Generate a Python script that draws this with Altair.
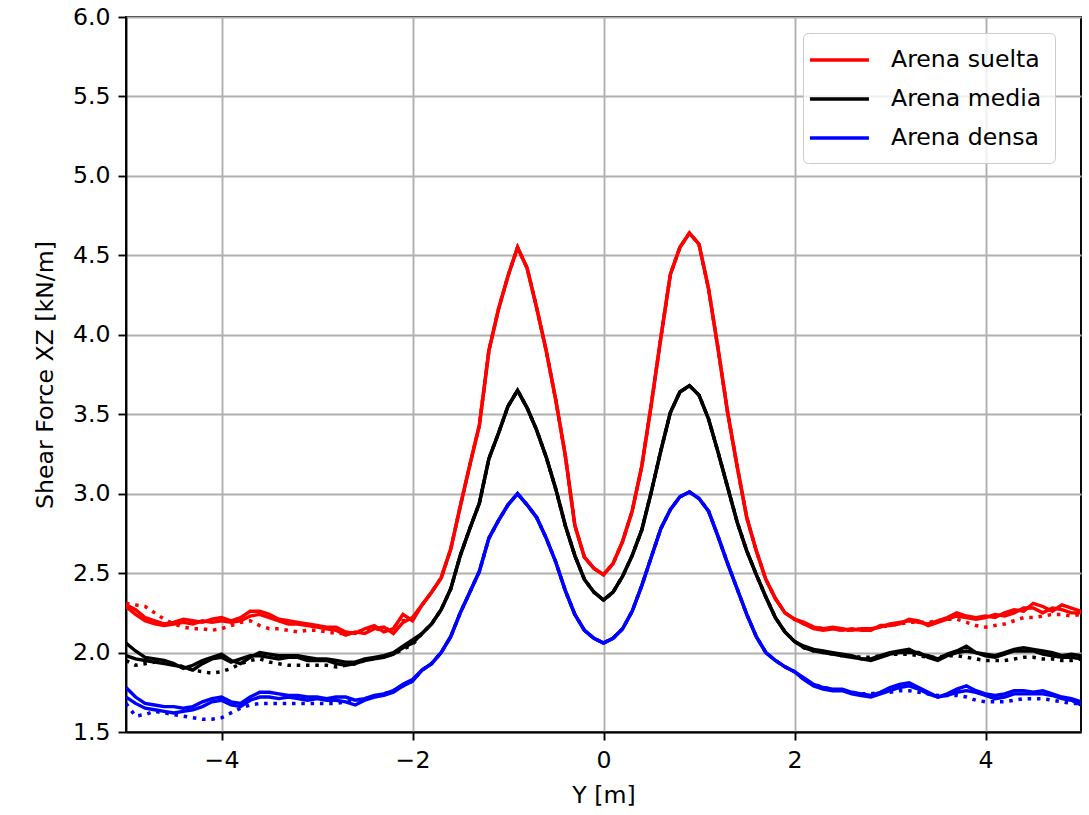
import altair as alt
import pandas as pd

# x positions (Y [m]) of the sampled points
Y_LEFT = [-5.0, -4.9, -4.8, -4.7, -4.6, -4.5, -4.4, -4.3, -4.2, -4.1, -4.0,
          -3.9, -3.8, -3.7, -3.6, -3.5, -3.4, -3.3, -3.2, -3.1, -3.0,
          -2.9, -2.8, -2.7, -2.6, -2.5, -2.4, -2.3, -2.2, -2.1, -2.0]
Y_MID = [-1.9, -1.8, -1.7, -1.6, -1.5, -1.4, -1.3, -1.2, -1.1, -1.0,
         -0.9, -0.8, -0.7, -0.6, -0.5, -0.4, -0.3, -0.2, -0.1, 0.0,
         0.1, 0.2, 0.3, 0.4, 0.5, 0.6, 0.7, 0.8, 0.9, 1.0,
         1.1, 1.2, 1.3, 1.4, 1.5, 1.6, 1.7, 1.8, 1.9, 2.0]
Y_RIGHT = [2.1, 2.2, 2.3, 2.4, 2.5, 2.6, 2.7, 2.8, 2.9, 3.0,
           3.1, 3.2, 3.3, 3.4, 3.5, 3.6, 3.7, 3.8, 3.9, 4.0,
           4.1, 4.2, 4.3, 4.4, 4.5, 4.6, 4.7, 4.8, 4.9, 5.0]

MATERIALS = ["Arena suelta", "Arena media", "Arena densa"]
COLORS = ["#ff0000", "#000000", "#0000ff"]
X_TICKS = [-4, -2, 0, 2, 4]
Y_TICKS = [1.5, 2.0, 2.5, 3.0, 3.5, 4.0, 4.5, 5.0, 5.5, 6.0]

# ---- Arena suelta (red) ----
SUELTA_MID = [2.30, 2.38, 2.47, 2.65, 2.92, 3.18, 3.43, 3.90, 4.16, 4.37,
              4.55, 4.42, 4.17, 3.90, 3.59, 3.24, 2.80, 2.60, 2.53, 2.49,
              2.56, 2.70, 2.89, 3.17, 3.56, 3.98, 4.38, 4.55, 4.64, 4.57,
              4.29, 3.91, 3.51, 3.17, 2.85, 2.64, 2.46, 2.34, 2.25, 2.21]
SUELTA_A_LEFT = [2.30, 2.27, 2.22, 2.20, 2.18, 2.19, 2.21, 2.20, 2.19, 2.21, 2.22,
                 2.20, 2.22, 2.26, 2.26, 2.24, 2.21, 2.20, 2.19, 2.18, 2.17,
                 2.16, 2.16, 2.13, 2.12, 2.15, 2.17, 2.13, 2.15, 2.24, 2.20]
SUELTA_B_LEFT = [2.29, 2.24, 2.20, 2.18, 2.17, 2.18, 2.19, 2.18, 2.20, 2.19, 2.20,
                 2.19, 2.20, 2.23, 2.24, 2.22, 2.20, 2.18, 2.18, 2.17, 2.16,
                 2.15, 2.14, 2.11, 2.13, 2.12, 2.15, 2.16, 2.12, 2.19, 2.22]
SUELTA_C_LEFT = [2.31, 2.30, 2.29, 2.25, 2.21, 2.18, 2.16, 2.15, 2.15, 2.14, 2.15,
                 2.17, 2.19, 2.20, 2.17, 2.15, 2.15, 2.14, 2.13, 2.14, 2.14,
                 2.13, 2.12, 2.12, 2.13, 2.14, 2.15, 2.14, 2.16, 2.20, 2.21]
SUELTA_A_RIGHT = [2.19, 2.16, 2.15, 2.16, 2.15, 2.14, 2.15, 2.15, 2.16, 2.18,
                  2.19, 2.20, 2.19, 2.18, 2.20, 2.22, 2.25, 2.23, 2.22, 2.23,
                  2.22, 2.25, 2.27, 2.26, 2.31, 2.29, 2.26, 2.30, 2.28, 2.26]
SUELTA_B_RIGHT = [2.18, 2.15, 2.14, 2.15, 2.14, 2.15, 2.14, 2.14, 2.17, 2.17,
                  2.18, 2.21, 2.20, 2.17, 2.19, 2.21, 2.23, 2.22, 2.21, 2.22,
                  2.24, 2.23, 2.25, 2.28, 2.28, 2.25, 2.28, 2.27, 2.25, 2.25]
SUELTA_C_RIGHT = [2.18, 2.16, 2.15, 2.15, 2.14, 2.14, 2.15, 2.15, 2.16, 2.17,
                  2.18, 2.19, 2.19, 2.19, 2.20, 2.21, 2.21, 2.19, 2.17, 2.16,
                  2.17, 2.18, 2.20, 2.22, 2.22, 2.23, 2.24, 2.24, 2.23, 2.24]

# ---- Arena media (black) ----
MEDIA_MID = [2.12, 2.18, 2.27, 2.40, 2.61, 2.78, 2.94, 3.22, 3.38, 3.55,
             3.65, 3.54, 3.40, 3.23, 3.03, 2.80, 2.61, 2.46, 2.38, 2.33,
             2.38, 2.48, 2.61, 2.77, 3.01, 3.27, 3.51, 3.64, 3.68, 3.62,
             3.47, 3.26, 3.04, 2.82, 2.64, 2.49, 2.35, 2.22, 2.13, 2.07]
MEDIA_A_LEFT = [2.06, 2.01, 1.97, 1.96, 1.95, 1.93, 1.90, 1.92, 1.95, 1.97, 1.99,
                1.95, 1.93, 1.97, 2.00, 1.99, 1.98, 1.98, 1.98, 1.97, 1.96,
                1.96, 1.95, 1.94, 1.94, 1.96, 1.97, 1.98, 2.00, 2.04, 2.08]
MEDIA_B_LEFT = [1.98, 1.96, 1.95, 1.94, 1.93, 1.92, 1.91, 1.89, 1.93, 1.96, 1.97,
                1.94, 1.96, 1.98, 1.98, 1.97, 1.96, 1.97, 1.97, 1.95, 1.95,
                1.95, 1.93, 1.92, 1.93, 1.95, 1.96, 1.97, 1.99, 2.03, 2.06]
MEDIA_C_LEFT = [1.95, 1.92, 1.93, 1.94, 1.94, 1.93, 1.91, 1.89, 1.88, 1.87, 1.88,
                1.90, 1.93, 1.95, 1.96, 1.94, 1.93, 1.92, 1.92, 1.92, 1.92,
                1.92, 1.91, 1.92, 1.93, 1.95, 1.96, 1.98, 1.99, 2.02, 2.05]
MEDIA_A_RIGHT = [2.04, 2.02, 2.01, 2.00, 1.99, 1.98, 1.96, 1.96, 1.98, 2.00,
                 2.01, 2.02, 1.99, 1.98, 1.96, 1.99, 2.01, 2.04, 2.00, 1.99,
                 1.98, 2.00, 2.02, 2.03, 2.02, 2.01, 2.00, 1.98, 1.99, 1.98]
MEDIA_B_RIGHT = [2.03, 2.01, 2.00, 1.99, 1.98, 1.97, 1.96, 1.95, 1.97, 1.99,
                 2.00, 2.00, 2.00, 1.97, 1.95, 1.98, 2.00, 2.01, 2.00, 1.98,
                 1.97, 1.99, 2.01, 2.01, 2.01, 1.99, 1.98, 1.97, 1.97, 1.96]
MEDIA_C_RIGHT = [2.03, 2.01, 2.00, 1.99, 1.98, 1.98, 1.97, 1.97, 1.98, 1.99,
                 1.99, 1.99, 1.98, 1.97, 1.97, 1.98, 1.98, 1.97, 1.96, 1.95,
                 1.95, 1.95, 1.96, 1.97, 1.97, 1.96, 1.96, 1.95, 1.95, 1.96]

# ---- Arena densa (blue) ----
DENSA_MID = [1.89, 1.93, 2.00, 2.10, 2.25, 2.38, 2.51, 2.72, 2.83, 2.93,
             3.00, 2.93, 2.85, 2.72, 2.57, 2.39, 2.24, 2.14, 2.09, 2.06,
             2.09, 2.15, 2.26, 2.42, 2.60, 2.78, 2.90, 2.98, 3.01, 2.97,
             2.89, 2.73, 2.56, 2.40, 2.24, 2.10, 2.00, 1.95, 1.91, 1.88]
DENSA_A_LEFT = [1.78, 1.72, 1.68, 1.67, 1.66, 1.66, 1.65, 1.66, 1.69, 1.71, 1.72,
                1.69, 1.68, 1.72, 1.75, 1.75, 1.74, 1.73, 1.73, 1.72, 1.72,
                1.71, 1.72, 1.72, 1.70, 1.71, 1.73, 1.74, 1.76, 1.80, 1.83]
DENSA_B_LEFT = [1.72, 1.68, 1.65, 1.64, 1.63, 1.62, 1.63, 1.64, 1.66, 1.69, 1.70,
                1.67, 1.66, 1.70, 1.72, 1.72, 1.71, 1.72, 1.71, 1.70, 1.71,
                1.70, 1.70, 1.69, 1.67, 1.70, 1.72, 1.73, 1.75, 1.79, 1.82]
DENSA_C_LEFT = [1.68, 1.60, 1.61, 1.63, 1.62, 1.61, 1.60, 1.59, 1.58, 1.58, 1.59,
                1.62, 1.65, 1.67, 1.68, 1.68, 1.68, 1.68, 1.68, 1.68, 1.68,
                1.68, 1.68, 1.69, 1.70, 1.71, 1.72, 1.74, 1.76, 1.79, 1.82]
DENSA_A_RIGHT = [1.84, 1.80, 1.78, 1.77, 1.77, 1.75, 1.74, 1.73, 1.75, 1.78,
                 1.80, 1.81, 1.78, 1.75, 1.72, 1.74, 1.77, 1.79, 1.76, 1.74,
                 1.73, 1.74, 1.76, 1.76, 1.75, 1.76, 1.74, 1.72, 1.71, 1.69]
DENSA_B_RIGHT = [1.83, 1.79, 1.77, 1.76, 1.76, 1.74, 1.73, 1.72, 1.74, 1.76,
                 1.78, 1.79, 1.77, 1.74, 1.72, 1.73, 1.75, 1.76, 1.75, 1.73,
                 1.71, 1.72, 1.74, 1.74, 1.74, 1.74, 1.73, 1.71, 1.70, 1.67]
DENSA_C_RIGHT = [1.83, 1.80, 1.78, 1.77, 1.76, 1.75, 1.74, 1.74, 1.75, 1.75,
                 1.76, 1.76, 1.75, 1.74, 1.73, 1.73, 1.73, 1.72, 1.70, 1.69,
                 1.69, 1.69, 1.70, 1.71, 1.71, 1.71, 1.70, 1.69, 1.68, 1.68]

SERIES = {
    "Arena suelta": {
        "A": SUELTA_A_LEFT + SUELTA_MID + SUELTA_A_RIGHT,
        "B": SUELTA_B_LEFT + SUELTA_MID + SUELTA_B_RIGHT,
        "C": SUELTA_C_LEFT + SUELTA_MID + SUELTA_C_RIGHT,
    },
    "Arena media": {
        "A": MEDIA_A_LEFT + MEDIA_MID + MEDIA_A_RIGHT,
        "B": MEDIA_B_LEFT + MEDIA_MID + MEDIA_B_RIGHT,
        "C": MEDIA_C_LEFT + MEDIA_MID + MEDIA_C_RIGHT,
    },
    "Arena densa": {
        "A": DENSA_A_LEFT + DENSA_MID + DENSA_A_RIGHT,
        "B": DENSA_B_LEFT + DENSA_MID + DENSA_B_RIGHT,
        "C": DENSA_C_LEFT + DENSA_MID + DENSA_C_RIGHT,
    },
}
Y_ALL = Y_LEFT + Y_MID + Y_RIGHT

rows = []
for mat, runs in SERIES.items():
    for run, vals in runs.items():
        for yv, fv in zip(Y_ALL, vals):
            rows.append({"y": yv, "f": fv, "material": mat, "run": run,
                         "key": mat + "-" + run})
df = pd.DataFrame(rows)

FONT = "DejaVu Sans"

x_enc = alt.X("y:Q", scale=alt.Scale(domain=[-5, 5], nice=False, zero=False),
              axis=alt.Axis(values=X_TICKS, format="d", title="Y [m]",
                            labelPadding=8, titlePadding=12))
y_enc = alt.Y("f:Q", scale=alt.Scale(domain=[1.5, 6.0], nice=False, zero=False),
              axis=alt.Axis(values=Y_TICKS, format=".1f", title="Shear Force XZ [kN/m]",
                            labelPadding=8, titlePadding=15))

color_scale = alt.Scale(domain=MATERIALS, range=COLORS)

solid = alt.Chart(df).transform_filter(
    alt.FieldOneOfPredicate(field="run", oneOf=["A", "B"])
).mark_line(strokeWidth=3.4, clip=True).encode(
    x=x_enc,
    y=y_enc,
    color=alt.Color("material:N", scale=color_scale, sort=MATERIALS,
                    legend=alt.Legend(
                        title=None, orient="none", legendX=677, legendY=16,
                        symbolType="M-1.7,0H3.3", symbolSize=557, symbolStrokeWidth=3.5,
                        labelFont=FONT, labelFontSize=23.6, labelColor="black",
                        labelLimit=400,
                        labelOffset=47, rowPadding=13, padding=13,
                        strokeColor="#cccccc", fillColor="rgba(255,255,255,0.8)",
                        cornerRadius=5,
                    )),
    detail="key:N",
)

dotted = alt.Chart(df).transform_filter(
    alt.FieldEqualPredicate(field="run", equal="C")
).mark_line(strokeWidth=3.5, strokeDash=[3.5, 5.8], strokeCap="butt", clip=True).encode(
    x=x_enc,
    y=y_enc,
    color=alt.Color("material:N", scale=color_scale, sort=MATERIALS, legend=None),
    detail="key:N",
)

chart = alt.layer(dotted, solid).resolve_scale(color="independent").properties(
    width=955,
    height=715,
    autosize=alt.AutoSizeParams(type="none"),
    padding={"left": 126, "top": 17, "right": 8, "bottom": 83},
    background="white",
).configure_view(
    stroke="black", strokeWidth=1.9
).configure_axis(
    domainColor="black", domainWidth=1.9,
    tickColor="black", tickWidth=1.9, tickSize=8,
    grid=True, gridColor="#b0b0b0", gridWidth=1.9,
    labelFont=FONT, labelFontSize=23.6, labelColor="black",
    titleFont=FONT, titleFontSize=23.6, titleFontWeight="normal", titleColor="black",
)

chart.save("out.html", embed_options={"renderer": "svg", "actions": False})
